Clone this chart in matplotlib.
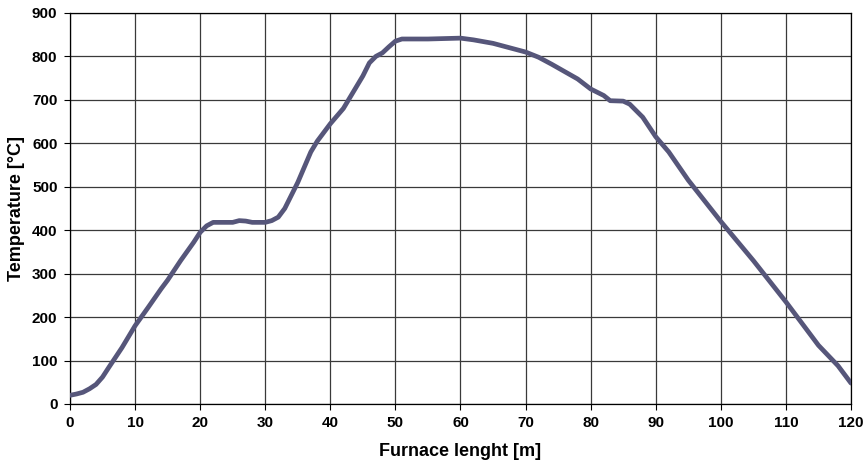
import matplotlib.pyplot as plt

plt.rcParams['font.family'] = ['Liberation Sans', 'DejaVu Sans']

# furnace length [m] and temperature [°C]
length = [0, 1, 2, 3, 4, 5, 6, 8, 10, 12, 14, 15, 17, 19, 20, 21, 22, 24, 25, 26,
          27, 28, 30, 31, 32, 33, 34, 35, 36, 37, 38, 40, 42, 43, 44, 45, 46, 47,
          48, 49, 50, 51, 55, 60, 62, 65, 68, 70, 72, 74, 76, 78, 80, 82, 83, 85,
          86, 88, 90, 92, 95, 100, 105, 110, 115, 118, 120]
temp = [20, 23, 27, 35, 45, 62, 85, 130, 180, 222, 265, 285, 330, 372, 395, 410, 418, 418, 418, 422,
        421, 418, 418, 422, 430, 450, 480, 510, 545, 580, 605, 645, 680, 705, 730, 755, 785, 800,
        808, 822, 835, 840, 840, 842, 838, 830, 818, 810, 798, 782, 765, 748, 725, 710, 698, 697,
        690, 660, 615, 580, 515, 420, 330, 235, 135, 88, 48]

fig = plt.figure(figsize=(8.63, 4.65), dpi=100)
ax = fig.add_axes([0.0811, 0.1312, 0.905, 0.841])

ax.plot(length, temp, '-', color='#56567a', linewidth=3.4, solid_capstyle='round', zorder=3)

ax.set_xlim(0, 120)
ax.set_ylim(0, 900)
ax.set_xticks(range(0, 121, 10))
ax.set_yticks(range(0, 901, 100))
ax.grid(True, color='#3a3a3a', linewidth=0.9)
for s in ax.spines.values():
    s.set_linewidth(0.9)
ax.tick_params(direction='out', length=4, width=0.8, labelsize=11, pad=5)
for lbl in ax.get_xticklabels() + ax.get_yticklabels():
    lbl.set_fontweight('bold')

ax.set_xlabel('Furnace lenght [m]', fontsize=13, fontweight='bold', labelpad=9)
ax.set_ylabel('Temperature [°C]', fontsize=13, fontweight='bold', labelpad=5)

plt.savefig('out.png')
